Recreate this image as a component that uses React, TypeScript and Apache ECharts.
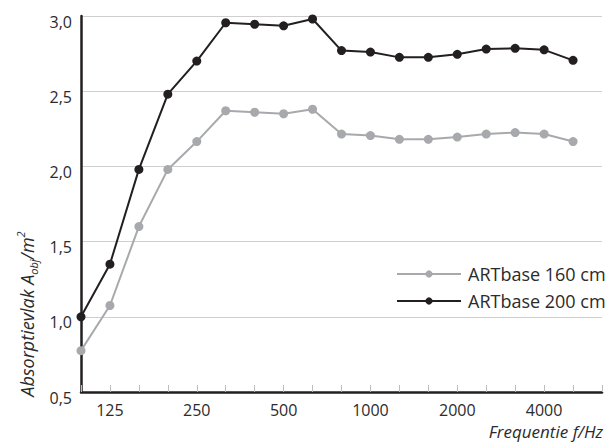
import React, { useEffect, useRef } from "react";
import * as echarts from "echarts";

const frequencies = ["100", "125", "160", "200", "250", "315", "400", "500", "630", "800", "1000", "1250", "1600", "2000", "2500", "3150", "4000", "5000"];
const shownTickLabels = ["125", "250", "500", "1000", "2000", "4000"];
const yTicks = [0.5, 1.0, 1.5, 2.0, 2.5, 3.0];
const series160 = [0.775, 1.075, 1.6, 1.98, 2.165, 2.37, 2.36, 2.35, 2.38, 2.215, 2.205, 2.18, 2.18, 2.195, 2.215, 2.225, 2.215, 2.165];
const series200 = [1.0, 1.35, 1.98, 2.48, 2.7, 2.955, 2.945, 2.935, 2.98, 2.77, 2.76, 2.725, 2.725, 2.745, 2.78, 2.785, 2.775, 2.705];
const seriesNames = ["ARTbase 160 cm", "ARTbase 200 cm"];
const xTitle = "Frequentie f/Hz";

const FONT = "'Open Sans', sans-serif";
const TEXT = "#2b2b2b";
const GRAY = "#a7a9ac";
const BLACK = "#231f20";

export default function App() {
  const ref = useRef<HTMLDivElement>(null);
  useEffect(() => {
    if (!ref.current) return;
    const chart = echarts.init(ref.current, undefined, { renderer: "svg" });
    const mk = (vals: number[]) => vals.map((v, i) => [i, v]);
    chart.setOption({
      animation: false,
      backgroundColor: "#ffffff",
      textStyle: { fontFamily: FONT },
      grid: { left: 81, top: 16, right: 8, bottom: 52, containLabel: false },
      xAxis: {
        type: "value",
        min: 0,
        max: frequencies.length,
        interval: 1,
        axisLine: { show: true, lineStyle: { color: BLACK, width: 2.5 } },
        axisTick: { show: true, inside: true, length: 7, lineStyle: { color: "#bdbdbd", width: 1 } },
        splitLine: { show: false },
        axisLabel: {
          margin: 10,
          fontSize: 16,
          color: TEXT,
          fontFamily: FONT,
          formatter: (v: number) => {
            const f = frequencies[Math.round(v)];
            return f && shownTickLabels.includes(f) ? f : "";
          },
        },
      },
      yAxis: {
        type: "value",
        min: yTicks[0],
        max: yTicks[yTicks.length - 1],
        interval: 0.5,
        axisLine: { show: true, lineStyle: { color: BLACK, width: 2.5 } },
        axisTick: { show: false },
        splitLine: { show: true, lineStyle: { color: "#cfcfcf", width: 1 } },
        axisLabel: {
          margin: 9,
          fontSize: 16,
          color: TEXT,
          fontFamily: FONT,
          verticalAlign: "top",
          lineHeight: 11,
          formatter: (v: number) => v.toFixed(1).replace(".", ","),
        },
      },
      legend: {
        orient: "vertical",
        left: 396,
        top: 265,
        padding: 0,
        itemWidth: 64,
        itemHeight: 9,
        itemGap: 9,
        textStyle: { fontSize: 18, color: TEXT, fontFamily: FONT, padding: [0, 0, 0, 2] },
        data: seriesNames,
      },
      graphic: [
        {
          type: "text",
          right: 7,
          top: 423,
          style: { text: xTitle, font: `italic 17px ${FONT}`, fill: TEXT },
        },
        {
          type: "text",
          x: 27,
          y: 314,
          rotation: Math.PI / 2,
          style: {
            text: "{a|Absorptievlak A}{s|obj}{a|/m}{p|2}",
            align: "center",
            verticalAlign: "middle",
            fill: TEXT,
            rich: {
              a: { fontSize: 18, fontStyle: "italic", fontFamily: FONT, lineHeight: 24, fill: TEXT, color: TEXT },
              s: { fontSize: 11, fontStyle: "italic", fontFamily: FONT, lineHeight: 11, verticalAlign: "bottom", fill: TEXT, color: TEXT },
              p: { fontSize: 11, fontStyle: "italic", fontFamily: FONT, lineHeight: 11, verticalAlign: "top", fill: TEXT, color: TEXT },
            },
          },
        },
      ],
      series: [
        {
          name: seriesNames[0],
          type: "line",
          data: mk(series160),
          symbol: "circle",
          symbolSize: 9,
          color: GRAY,
          itemStyle: { color: GRAY },
          lineStyle: { color: GRAY, width: 2 },
        },
        {
          name: seriesNames[1],
          type: "line",
          data: mk(series200),
          symbol: "circle",
          symbolSize: 9,
          color: BLACK,
          itemStyle: { color: BLACK },
          lineStyle: { color: BLACK, width: 2 },
        },
      ],
    });
    return () => chart.dispose();
  }, []);
  return <div ref={ref} style={{ position: "fixed", left: 0, top: 0, width: 610, height: 444 }} />;
}
